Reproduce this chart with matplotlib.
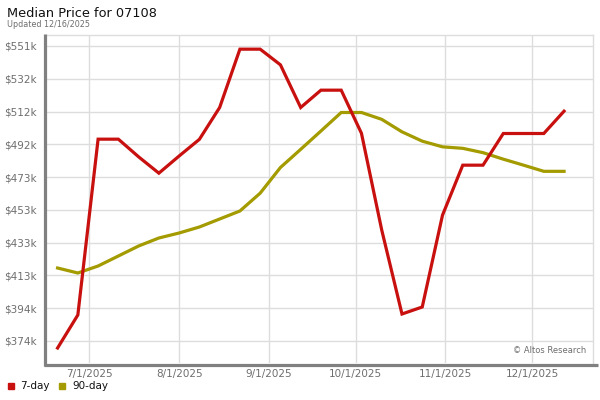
import matplotlib
matplotlib.use("Agg")
import matplotlib.pyplot as plt
from matplotlib.lines import Line2D
import numpy as np
import datetime as dt

# ---- data ----
start = dt.date(2025, 6, 20)
dates = [start + dt.timedelta(days=7 * i) for i in range(26)]
seven_day = [369.8, 389.6, 495.1, 495.1, 484.5, 474.7, 485.0, 495.0, 514.1, 549.1,
             549.1, 539.7, 514.1, 524.5, 524.5, 498.6, 440.6, 390.2, 394.4, 449.5,
             479.5, 479.5, 498.5, 498.5, 498.5, 511.9]
ninety_day = [417.8, 414.8, 419.0, 425.0, 431.0, 435.8, 438.8, 442.4, 447.2, 452.0,
              462.7, 478.1, 489.0, 500.0, 511.1, 511.1, 507.0, 499.5, 493.9, 490.5,
              489.6, 487.0, 483.1, 479.5, 475.8, 475.8]
y_tick_labels = ["$374k", "$394k", "$413k", "$433k", "$453k", "$473k", "$492k",
                 "$512k", "$532k", "$551k"]
x_tick_dates = [dt.date(2025, m, 1) for m in range(7, 13)]
x_tick_labels = ["7/1/2025", "8/1/2025", "9/1/2025", "10/1/2025", "11/1/2025", "12/1/2025"]
series_names = ["7-day", "90-day"]

red = "#c8100f"
olive = "#a39b00"
gray_txt = "#6e6e6e"
spine_gray = "#808080"

W, H = 600, 400
fig = plt.figure(figsize=(6, 4), dpi=100)
ax = fig.add_axes([46 / W, 1 - 363 / H, (593 - 46) / W, (363 - 35) / H])

ax.plot(dates, ninety_day, color=olive, lw=2.3, solid_joinstyle="miter", zorder=3)
ax.plot(dates, seven_day, color=red, lw=2.3, solid_joinstyle="miter", zorder=4)

yt = 374 + np.arange(10) * 19.667
ax.set_yticks(yt)
ax.set_yticklabels(y_tick_labels)
ax.set_ylim(360.8, 557.6)
ax.set_xticks(x_tick_dates)
ax.set_xticklabels(x_tick_labels)
ax.set_xlim(dt.date(2025, 6, 16) + dt.timedelta(hours=12), dt.date(2025, 12, 22) + dt.timedelta(hours=17))

ax.grid(True, color="#dddddd", lw=1)
ax.set_axisbelow(True)
ax.tick_params(length=0, labelsize=7.5, labelcolor=gray_txt)
ax.tick_params(axis="y", pad=7)
ax.tick_params(axis="x", pad=4)
for s in ["top", "right"]:
    ax.spines[s].set_color("#dddddd")
    ax.spines[s].set_linewidth(1)
for s in ["left", "bottom"]:
    ax.spines[s].set_visible(False)

# thick gray axis frame lines (bottom one extends past the plot area)
fig.add_artist(Line2D([45 / W, 45 / W], [1 - 34 / H, 1 - 366 / H], color=spine_gray, lw=2.3,
                      solid_capstyle="butt"))
fig.add_artist(Line2D([43.5 / W, 598 / W], [1 - 364.5 / H, 1 - 364.5 / H], color=spine_gray, lw=2.3,
                      solid_capstyle="butt"))

ax.text(0.988, 0.025, "\u00a9 Altos Research", transform=ax.transAxes, ha="right", va="bottom",
        fontsize=6.0, color=gray_txt)

fig.text(0.011, 0.966, "Median Price for 07108", fontsize=9.3, color="#111111", va="center")
fig.text(0.011, 0.938, "Updated 12/16/2025", fontsize=5.8, color=gray_txt, va="center")

# legend row under the chart
leg_y = 1 - 386 / H
for (mx, tx), col, name in zip([(10.5, 20), (62, 72)], [red, olive], series_names):
    fig.add_artist(Line2D([mx / W], [leg_y], marker="s", ls="none", color=col, markersize=4))
    fig.text(tx / W, leg_y, name, fontsize=7.5, color="#111111", va="center", ha="left")

fig.savefig("out.png", dpi=100)
